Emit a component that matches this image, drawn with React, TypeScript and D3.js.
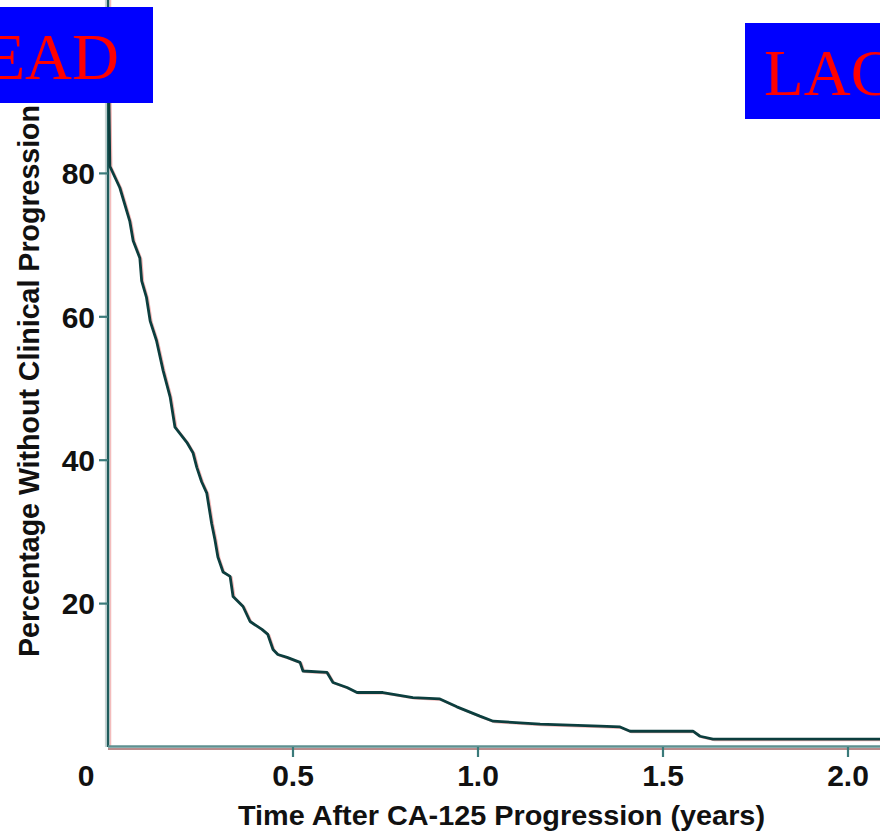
import React from "react";
import * as d3 from "d3";

// Kaplan-Meier style curve
const timesYears = [
  0, 0.005, 0.032, 0.059, 0.068, 0.086, 0.091, 0.104, 0.114, 0.131, 0.149, 0.168, 0.181,
  0.213, 0.23, 0.24, 0.253, 0.267, 0.28, 0.289, 0.297, 0.311, 0.33, 0.338, 0.365, 0.384,
  0.416, 0.432, 0.446, 0.459, 0.484, 0.519, 0.527, 0.592, 0.608, 0.646, 0.673, 0.743,
  0.824, 0.897, 0.943, 1.005, 1.041, 1.168, 1.33, 1.384, 1.411, 1.581, 1.6, 1.635, 2.15,
];
const percentWithout = [
  100, 81, 78, 73.3, 70.6, 68.2, 65, 62.7, 59.4, 56.7, 52.5, 48.8, 44.6,
  42.5, 41, 39, 37, 35.4, 31.2, 28.9, 26.5, 24.4, 23.8, 21, 19.6, 17.5,
  16.4, 15.7, 13.6, 12.9, 12.5, 11.8, 10.6, 10.4, 9, 8.3, 7.6, 7.6,
  6.9, 6.7, 5.6, 4.3, 3.6, 3.2, 2.9, 2.8, 2.2, 2.2, 1.5, 1.1, 1.1,
];
const yTickValues = [20, 40, 60, 80];
const xTickValues = [0.5, 1.0, 1.5, 2.0];
const xTickLabels = ["0.5", "1.0", "1.5", "2.0"];
const cornerLabel = "0";
const yAxisTitle = "Percentage Without Clinical Progression";
const xAxisTitle = "Time After CA-125 Progression (years)";
const leftBoxText = "EAD";
const rightBoxText = "LAC";

const W = 880;
const H = 832;
const sans = "'Liberation Sans', Arial, Helvetica, sans-serif";
const serif = "'Liberation Serif', 'Times New Roman', Times, serif";

export default function App() {
  const x = d3.scaleLinear().domain([0, 2]).range([108, 848]);
  const y = d3.scaleLinear().domain([0, 100]).range([747, 30]);
  const pts: [number, number][] = timesYears.map((t, i) => [t, percentWithout[i]]);
  const line = d3
    .line<[number, number]>()
    .x((d) => x(d[0]))
    .y((d) => y(d[1]))
    .curve(d3.curveLinear);
  const path = line(pts) || "";
  const x0 = x(0);
  const yBase = y(0);

  return (
    <svg
      width={W}
      height={H}
      viewBox={`0 0 ${W} ${H}`}
      style={{ position: "absolute", left: 0, top: 0, background: "#fff" }}
    >
      <rect x={0} y={0} width={W} height={H} fill="#fff" />
      {/* y axis */}
      <line x1={x0 - 2.5} x2={x0 - 2.5} y1={0} y2={yBase} stroke="#c9d3d3" strokeWidth={1.2} />
      <line x1={x0 + 2.5} x2={x0 + 2.5} y1={0} y2={yBase} stroke="#f3bcbc" strokeWidth={1.5} />
      <line x1={x0} x2={x0} y1={0} y2={yBase} stroke="#1f5c5c" strokeWidth={2.6} />
      {/* x axis */}
      <line x1={x0} x2={W} y1={yBase + 2} y2={yBase + 2} stroke="#b88c8c" strokeWidth={2} />
      <line x1={x0} x2={W} y1={yBase - 0.5} y2={yBase - 0.5} stroke="#5e9090" strokeWidth={2.4} />

      {/* y ticks */}
      {yTickValues.map((v) => (
        <g key={"y" + v}>
          <line x1={x0 - 9} x2={x0} y1={y(v)} y2={y(v)} stroke="#3a7a7a" strokeWidth={2.2} />
          <text
            x={95}
            y={y(v)}
            dy="0.36em"
            textAnchor="end"
            fontFamily={sans}
            fontWeight="bold"
            fontSize={30}
            fill="#111"
          >
            {v}
          </text>
        </g>
      ))}
      {/* x ticks */}
      {xTickValues.map((v, i) => (
        <g key={"x" + v}>
          <line x1={x(v)} x2={x(v)} y1={yBase} y2={yBase + 10} stroke="#3a7a7a" strokeWidth={2.2} />
          <text
            x={x(v)}
            y={786}
            textAnchor="middle"
            fontFamily={sans}
            fontWeight="bold"
            fontSize={30}
            fill="#111"
          >
            {xTickLabels[i]}
          </text>
        </g>
      ))}
      <text x={86} y={786} textAnchor="middle" fontFamily={sans} fontWeight="bold" fontSize={30} fill="#111">
        {cornerLabel}
      </text>

      {/* curve */}
      <path d={path} fill="none" stroke="#f2b4b4" strokeWidth={2.2} transform="translate(1.5,1)" />
      <path d={path} fill="none" stroke="#0c3e3e" strokeWidth={2.8} strokeLinejoin="round" />

      {/* axis titles */}
      <text
        x={238}
        y={825}
        fontFamily={sans}
        fontWeight="bold"
        fontSize={28}
        fill="#111"
        textLength={527}
        lengthAdjust="spacingAndGlyphs"
      >
        {xAxisTitle}
      </text>
      <text
        transform="translate(39,657) rotate(-90)"
        x={0}
        y={0}
        fontFamily={sans}
        fontWeight="bold"
        fontSize={29}
        fill="#111"
        textLength={552}
        lengthAdjust="spacingAndGlyphs"
      >
        {yAxisTitle}
      </text>

      {/* overlay boxes */}
      <rect x={0} y={7} width={153} height={96} fill="#0000ff" />
      <text x={119} y={79} textAnchor="end" fontFamily={serif} fontSize={65} fill="#ff0000">
        {leftBoxText}
      </text>
      <rect x={745} y={23} width={140} height={96} fill="#0000ff" />
      <text x={764} y={95} fontFamily={serif} fontSize={65} fill="#ff0000">
        {rightBoxText}
      </text>
    </svg>
  );
}
